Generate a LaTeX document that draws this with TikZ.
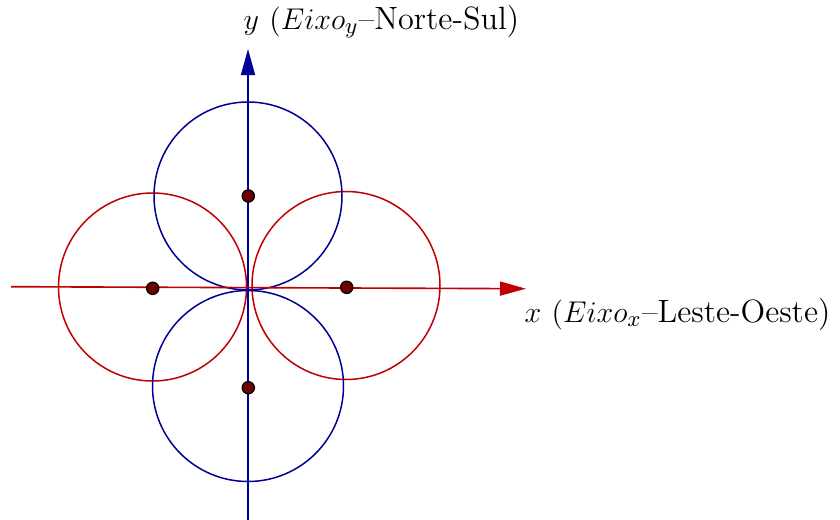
\documentclass[tikz,border=0pt]{standalone}
\usetikzlibrary{arrows.meta}
\definecolor{axblue}{RGB}{0,0,153}
\definecolor{axred}{RGB}{192,0,0}
\definecolor{dotred}{RGB}{110,0,0}
\begin{document}
\begin{tikzpicture}[x=0.4pt,y=-0.4pt,
  bluec/.style={draw=axblue,line width=0.6pt},
  redc/.style={draw=axred,line width=0.6pt},
  axisline/.style={line width=0.65pt,-{Triangle[length=10.4pt,width=5.6pt]}},
  dotpt/.style={circle,draw=black,fill=dotred,line width=0.5pt,minimum size=4.9pt,inner sep=0pt},
  lbl/.style={anchor=base west,inner sep=0pt,font=\fontsize{12.9}{15}\selectfont}]
\useasboundingbox (0,0) rectangle (840,520);
% centres
\coordinate (ct) at (248,196);
\coordinate (cb) at (248,386);
\coordinate (cl) at (152.5,287);
\coordinate (cr) at (346,285.5);
% axis ends
\coordinate (xs) at (11,286.7);
\coordinate (xe) at (526,288.7);
\coordinate (ys) at (248,520);
\coordinate (ye) at (248,49);
% circles
\draw[redc] (cl) circle (94);
\draw[redc] (cr) circle (94);
\draw[bluec] (ct) circle (94);
\draw[bluec] (cb) circle (95.5);
% axes
\draw[axisline,axblue] (ys) -- (ye);
\draw[axisline,axred] (xs) -- (xe);
% dots
\node[dotpt] (pt) at (248.3,196) {};
\node[dotpt] (pl) at (152.7,288.3) {};
\node[dotpt] (pr) at (346.7,287.3) {};
\node[dotpt] (pb) at (248.3,387.7) {};
% labels
\node[lbl] (ly) at (243,29) {$y$ $(Eixo_y$--Norte-Sul)};
\node[lbl] (lx) at (524,322) {$x$ $(Eixo_x$--Leste-Oeste)};
\end{tikzpicture}
\end{document}
